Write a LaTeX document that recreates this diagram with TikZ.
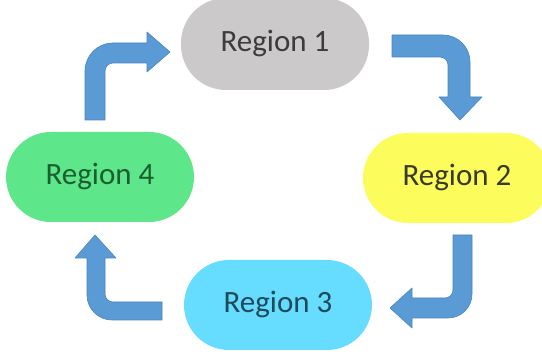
\documentclass[tikz,border=0pt]{standalone}
\usepackage{fontspec}
\setmainfont{Carlito}
\definecolor{regGray}{HTML}{CBC9C9}
\definecolor{regYellow}{HTML}{FCFC5C}
\definecolor{regCyan}{HTML}{66DCFF}
\definecolor{regGreen}{HTML}{5EE68A}
\definecolor{txtGray}{HTML}{3C3C3C}
\definecolor{txtYellow}{HTML}{3A3A2C}
\definecolor{txtCyan}{HTML}{1E4A5C}
\definecolor{txtGreen}{HTML}{1B5E2F}
\definecolor{arrowBlue}{HTML}{5B9BD5}
\definecolor{arrowEdge}{HTML}{4A84C0}
\begin{document}
\begin{tikzpicture}[x=1pt,y=-1pt,
  region/.style={rectangle, rounded corners=45pt, minimum width=188pt, minimum height=90pt,
    inner sep=0pt, font=\fontsize{31}{36}\selectfont},
  blockarrow/.style={fill=arrowBlue, draw=arrowEdge, line width=0.6pt, line join=round}]
\useasboundingbox (0,0) rectangle (542,358);
\fill[white] (0,0) rectangle (542,358);

\node[region, fill=regGray, text=txtGray, minimum height=92pt] (r1) at (275,44) {Region 1};
\node[region, fill=regYellow, text=txtYellow] (r2) at (457,178) {Region 2};
\node[region, fill=regCyan, text=txtCyan] (r3) at (278,305) {Region 3};
\node[region, fill=regGreen, text=txtGreen] (r4) at (100,177) {Region 4};

% Region 4 -> Region 1
\draw[blockarrow] (85,120) -- (85,71) .. controls (85,55.5) and (97.5,43) .. (113,43)
  -- (147,43) -- (147,32) -- (170,52) -- (147,72) -- (147,63) -- (113,63)
  .. controls (108.6,63) and (105,66.6) .. (105,71) -- (105,120) -- cycle;

% Region 1 -> Region 2
\draw[blockarrow] (392,35) -- (443,35) .. controls (457.9,35) and (470,47.1) .. (470,62)
  -- (470,97) -- (482,97) -- (460,120) -- (439,97) -- (448,97) -- (448,65)
  .. controls (448,60.6) and (444.4,57) .. (440,57) -- (392,57) -- cycle;

% Region 2 -> Region 3
\draw[blockarrow] (453,235) -- (472,235) -- (472,294) .. controls (472,307.3) and (461.3,318) .. (448,318)
  -- (412,318) -- (412,328) -- (390,308) -- (412,288) -- (412,298) -- (445,298)
  .. controls (449.4,298) and (453,294.4) .. (453,290) -- cycle;

% Region 3 -> Region 4
\draw[blockarrow] (162,302) -- (162,320) -- (112,320) .. controls (98.2,320) and (87,308.8) .. (87,295)
  -- (87,258) -- (75,258) -- (95,235) -- (116,258) -- (105,258) -- (105,294)
  .. controls (105,298.4) and (108.6,302) .. (113,302) -- cycle;
\end{tikzpicture}
\end{document}
